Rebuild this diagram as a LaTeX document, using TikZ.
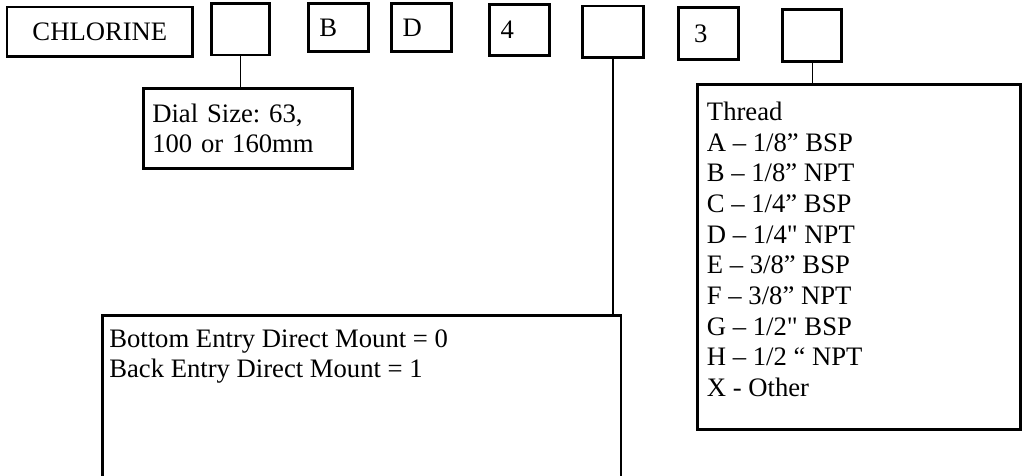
\documentclass[tikz,border=0pt]{standalone}
\usepackage{fontspec}
\setmainfont[Ligatures=TeXOff]{Liberation Serif}
\frenchspacing

\newcommand{\codetext}[1]{\makebox[17pt][l]{#1}}

\begin{document}
\begin{tikzpicture}[
    box/.style={rectangle, draw, line width=1.3pt, font=\fontsize{12}{13.8}\selectfont},
    codebox/.style={box, minimum width=0.95cm, minimum height=0.81cm, inner xsep=5pt},
    wire/.style={line width=0.6pt}
]
    \useasboundingbox (0,0) rectangle (16.2,7.53);
    \clip (0,0) rectangle (16.2,7.53);

    % Order code
    \node[box, minimum width=2.94cm, minimum height=0.78cm] (chlorine) at (1.58,7.03) {CHLORINE};
    \node[codebox, minimum width=0.92cm, minimum height=0.82cm] (dialcode) at (3.80,7.07) {};
    \node[codebox, minimum height=0.76cm] (bcode) at (5.35,7.09) {\codetext{B}};
    \node[codebox, minimum height=0.76cm] (dcode) at (6.67,7.09) {\codetext{D}};
    \node[codebox] (fourcode) at (8.22,7.06) {\codetext{4}};
    \node[codebox, minimum width=0.96cm] (mountcode) at (9.70,7.03) {};
    \node[codebox, minimum width=0.92cm] (threecode) at (11.21,7.00) {\codetext{\hspace{2pt}3}};
    \node[codebox, minimum width=0.93cm, minimum height=0.82cm] (threadcode) at (12.85,6.97) {};

    % Dial size
    \node[box, minimum height=1.27cm, text width=86pt, inner xsep=4pt, align=left] (dial) at (3.92,5.50) {Dial Size: 63,\\100 or 160mm};
    \draw[wire] (dialcode.south) -- (dialcode.south |- dial.north);

    % Mounting
    \node[box, minimum width=8.21cm, minimum height=2.77cm] (mount) at (5.72,1.16) {};
    \node[anchor=north west, inner sep=0pt, align=left, font=\fontsize{12}{13.8}\selectfont] (mounttext) at ([shift={(0.13,-0.24)}]mount.north west) {Bottom Entry Direct Mount = 0\\Back Entry Direct Mount = 1};
    \draw[wire] (mountcode.south) -- (mountcode.south |- mount.north);

    % Thread
    \node[box, minimum width=5.12cm, minimum height=5.46cm] (thread) at (13.59,3.46) {};
    \node[anchor=north west, inner sep=0pt, align=left, font=\fontsize{12}{13.8}\selectfont] (threadtext) at ([shift={(0.17,-0.29)}]thread.north west) {Thread\\A – 1/8” BSP\\B – 1/8” NPT\\C – 1/4” BSP\\D – 1/4" NPT\\E – 3/8” BSP\\F – 3/8” NPT\\G – 1/2" BSP\\H – 1/2 “ NPT\\X - Other};
    \draw[wire] (threadcode.south) -- (threadcode.south |- thread.north);
\end{tikzpicture}
\end{document}
